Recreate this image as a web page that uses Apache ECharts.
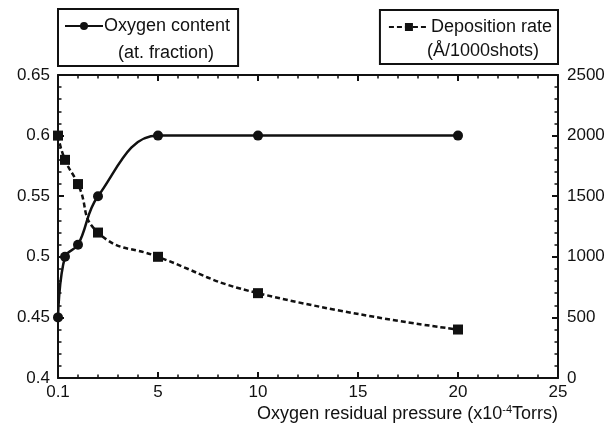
<!DOCTYPE html>
<html><head><meta charset="utf-8">
<script src="https://cdn.jsdelivr.net/npm/echarts@6/dist/echarts.min.js"></script>
<style>html,body{margin:0;padding:0;background:#fff}#c{width:616px;height:424px}</style>
</head><body><div id="c"></div>
<script>
const pressure = [0, 0.35, 1, 2, 5, 10, 20];
const oxygenContent = [0.45, 0.5, 0.51, 0.55, 0.6, 0.6, 0.6];
const depositionRate = [2000, 1800, 1600, 1200, 1000, 700, 400];
const xTickLabels = {0: '0.1', 5: '5', 10: '10', 15: '15', 20: '20', 25: '25'};
const leftTickLabels = {0.4: '0.4', 0.45: '0.45', 0.5: '0.5', 0.55: '0.55', 0.6: '0.6', 0.65: '0.65'};

const chart = echarts.init(document.getElementById('c'), null, {renderer: 'canvas'});
const font = 'Liberation Sans, Arial, sans-serif';
const black = '#111';
const axisBase = {
  axisLine: {show: true, onZero: false, lineStyle: {color: black, width: 2}},
  axisTick: {show: true, inside: true, length: 6, lineStyle: {color: black, width: 2}},
  minorTick: {show: true, splitNumber: 5, length: 3.5, lineStyle: {color: black, width: 1.5}},
  splitLine: {show: false},
  axisLabel: {color: black, fontFamily: font, fontSize: 17}
};
chart.setOption({
  animation: false,
  backgroundColor: '#fff',
  grid: {left: 58, right: 58, top: 75, bottom: 46},
  legend: [
    {
      data: [{name: 'Oxygen content'}], left: 58, top: 9,
      padding: [8, 8, 31, 6], borderColor: black, borderWidth: 2,
      itemWidth: 38, itemHeight: 10, itemGap: 0,
      textStyle: {color: black, fontFamily: font, fontSize: 18, padding: [0, 0, 0, -4]}
    },
    {
      data: [{name: 'Deposition rate'}], right: 58, top: 10,
      padding: [8, 6, 28, 8], borderColor: black, borderWidth: 2,
      itemWidth: 40, itemHeight: 10, itemGap: 0,
      textStyle: {color: black, fontFamily: font, fontSize: 18, padding: [0, 0, 0, -3]}
    }
  ],
  title: [
    {text: '(at. fraction)', left: 118, top: 44, padding: 0,
     textStyle: {color: black, fontFamily: font, fontSize: 18, fontWeight: 'normal'}},
    {text: '(Å/1000shots)', left: 427, top: 42, padding: 0,
     textStyle: {color: black, fontFamily: font, fontSize: 18, fontWeight: 'normal'}}
  ],
  xAxis: [
    Object.assign({}, axisBase, {
      type: 'value', min: 0, max: 25, interval: 5, position: 'bottom',
      axisLabel: Object.assign({}, axisBase.axisLabel, {
        margin: 6, formatter: v => xTickLabels[v] !== undefined ? xTickLabels[v] : ''
      }),
      name: '{a|Oxygen residual pressure (x10}{s|-4}{a|Torrs)}',
      nameLocation: 'end', nameGap: 0,
      nameTextStyle: {
        align: 'right', verticalAlign: 'top', padding: [26, 0, 0, 0],
        rich: {
          a: {color: black, fontFamily: font, fontSize: 18, lineHeight: 20},
          s: {color: black, fontFamily: font, fontSize: 11, verticalAlign: 'top', lineHeight: 12, padding: [0, 0, 8, 0]}
        }
      }
    }),
    Object.assign({}, axisBase, {
      type: 'value', min: 0, max: 25, interval: 5, position: 'top',
      axisLabel: {show: false}
    })
  ],
  yAxis: [
    Object.assign({}, axisBase, {
      type: 'value', min: 0.4, max: 0.65, interval: 0.05, position: 'left',
      axisLabel: Object.assign({}, axisBase.axisLabel, {
        margin: 8, formatter: v => {
          const k = Math.round(v * 100) / 100;
          return leftTickLabels[k] !== undefined ? leftTickLabels[k] : '';
        }
      })
    }),
    Object.assign({}, axisBase, {
      type: 'value', min: 0, max: 2500, interval: 500, position: 'right',
      axisLabel: Object.assign({}, axisBase.axisLabel, {margin: 9, formatter: v => String(v)})
    })
  ],
  series: [
    {
      name: 'Oxygen content', type: 'line', xAxisIndex: 0, yAxisIndex: 0,
      data: pressure.map((p, i) => [p, oxygenContent[i]]),
      smooth: 0.4,
      symbol: 'circle', symbolSize: 10,
      lineStyle: {color: black, width: 2.5},
      itemStyle: {color: black}
    },
    {
      name: 'Deposition rate', type: 'line', xAxisIndex: 0, yAxisIndex: 1,
      data: pressure.map((p, i) => [p, depositionRate[i]]),
      smooth: 0.5,
      symbol: 'rect', symbolSize: 10,
      lineStyle: {color: black, width: 2.5, type: [5, 3]},
      itemStyle: {color: black}
    }
  ]
});
</script></body></html>
